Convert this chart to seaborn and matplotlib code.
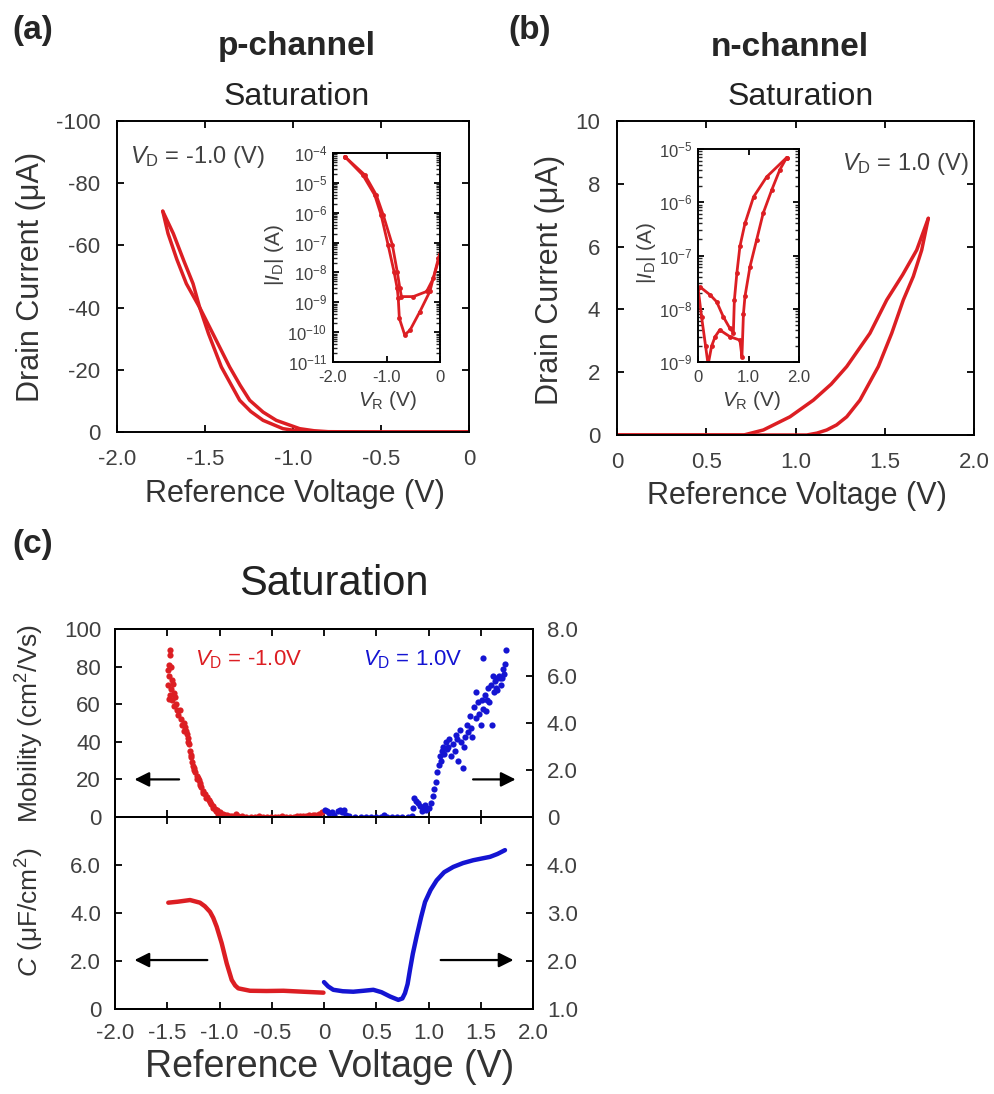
import numpy as np
import seaborn as sns
import matplotlib.pyplot as plt
from matplotlib.ticker import LogLocator, NullFormatter

# ---- (a) p-channel, saturation transfer loop (V, uA) ----
pch_v_left = [0.0, -0.6, -0.9, -0.98, -1.057, -1.17, -1.24, -1.303, -1.407, -1.48, -1.53, -1.606, -1.66, -1.71, -1.74]
pch_i_left = [0.0, 0.0, -0.1, -0.4, -1.07, -3.75, -6.6, -10.2, -20.9, -31.6, -40.0, -47.7, -55.5, -63.8, -71.0]
pch_v_right = [-1.74, -1.68, -1.62, -1.568, -1.53, -1.455, -1.36, -1.30, -1.246, -1.17, -1.095, -0.962, -0.88, -0.8, -0.5, 0.0]
pch_i_right = [-71.0, -63.8, -55.0, -47.7, -40.0, -31.6, -20.9, -15.0, -10.2, -6.4, -3.75, -1.07, -0.4, -0.1, 0.0, 0.0]

# inset (a): |ID| (A) on log scale
pin_v_dip = [-1.78, -1.44, -1.22, -1.10, -0.97, -0.86, -0.80, -0.78, -0.76, -0.66, -0.56, -0.375, -0.19, -0.03, 0.0]
pin_i_dip = [7.6e-5, 1.8e-5, 3.9e-6, 8.3e-7, 8.3e-8, 1.07e-8, 2.95e-9, 1.35e-9, 2.9e-10, 8.1e-11,
             1.17e-10, 4.9e-10, 2.3e-9, 2.95e-8, 4.0e-8]
pin_v_flat = [-1.78, -1.40, -1.19, -1.06, -0.89, -0.80, -0.75, -0.72, -0.5, -0.25, -0.125, 0.0]
pin_i_flat = [7.6e-5, 1.8e-5, 3.9e-6, 8.3e-7, 8.3e-8, 1.07e-8, 2.95e-9, 1.55e-9, 1.55e-9, 2.3e-9, 6.3e-9, 3.8e-8]

# ---- (b) n-channel loop (V, uA) ----
nch_v_up = [0.0, 0.4, 0.71, 0.82, 0.969, 1.10, 1.20, 1.287, 1.417, 1.511, 1.60, 1.679, 1.744]
nch_i_up = [0.0, 0.0, 0.0, 0.16, 0.58, 1.11, 1.62, 2.18, 3.24, 4.30, 5.10, 5.89, 6.90]
nch_v_down = [1.744, 1.707, 1.66, 1.604, 1.539, 1.464, 1.361, 1.287, 1.23, 1.175, 1.12, 1.063, 0.6, 0.0]
nch_i_down = [6.90, 5.89, 5.05, 4.30, 3.24, 2.18, 1.11, 0.58, 0.32, 0.16, 0.06, 0.0, 0.0, 0.0]

# inset (b)
nin_v_a = [0.0, 0.04, 0.24, 0.37, 0.5, 0.63, 0.70, 0.72, 0.77, 0.83, 0.93, 1.10, 1.36, 1.756]
nin_i_a = [2.5e-8, 2.57e-8, 1.82e-8, 1.35e-8, 7.1e-9, 4.3e-9, 3.55e-9, 1.45e-8, 4.7e-8, 1.48e-7,
           4.0e-7, 1.26e-6, 3.0e-6, 6.9e-6]
nin_v_b = [0.0, 0.07, 0.15, 0.2, 0.27, 0.34, 0.43, 0.63, 0.83, 0.87, 0.90, 0.93, 1.03, 1.16, 1.29,
           1.46, 1.62, 1.756]
nin_i_b = [2.5e-8, 7.1e-9, 2.0e-9, 8.9e-10, 2.0e-9, 3.0e-9, 4.0e-9, 3.0e-9, 2.57e-9, 1.26e-9, 8.1e-9,
           1.7e-8, 6.2e-8, 1.95e-7, 6.2e-7, 1.7e-6, 4.07e-6, 6.9e-6]

# ---- (c) mobility (p: left axis, n: right axis) ----
mob_p_v = [-1.475, -1.47, -1.48, -1.49, -1.46, -1.485, -1.455, -1.49, -1.465, -1.445, -1.47, -1.44, -1.48,
           -1.45, -1.43, -1.44, -1.42, -1.41, -1.395, -1.38, -1.37, -1.355, -1.34, -1.33, -1.32, -1.31,
           -1.30, -1.29, -1.28, -1.27, -1.265, -1.25, -1.24, -1.23, -1.22, -1.21, -1.20, -1.19, -1.18,
           -1.16, -1.14, -1.12, -1.10, -1.08, -1.06, -1.04, -1.02, -1.00, -0.97, -0.93, -0.88, -0.84,
           -0.78, -0.70, -0.62, -0.55, -0.47, -0.40, -0.33, -0.26, -0.20, -0.14, -0.09, -0.05, -0.02,
           -1.335, -1.305, -1.275, -1.245, -1.215, -1.185, -1.155, -1.125, -1.095, -1.065, -1.035,
           -1.01, -0.95, -0.90, -0.82, -0.75, -0.66, -0.58, -0.51, -0.44, -0.36, -0.29, -0.23, -0.17, -0.11]
mob_p = [89, 86, 81, 78, 80, 75, 73, 70, 68, 71, 65, 66, 63, 62, 64, 59, 60, 57, 54, 57, 52, 49, 50, 48,
         46, 44, 42, 39, 35, 32, 29, 27, 25, 24, 22, 21, 19.5, 18, 16, 14, 12, 10.5, 9, 7, 6, 4.5, 3.5,
         2.5, 1.8, 1.0, 0.6, 1.5, 0.4, 0.2, 0.3, 0.1, 0.2, 0.3, 0.2, 0.4, 0.6, 0.9, 1.3, 1.8, 2.6,
         46, 40, 33, 26, 20, 17, 13, 10, 8, 5, 3,
         1.5, 0.8, 0.3, 0.5, 0.1, 0.0, 0.2, 0.0, 0.1, 0.0, 0.2, 0.3, 0.5, 0.8]
mob_n_v = [0.01, 0.03, 0.05, 0.08, 0.10, 0.13, 0.15, 0.17, 0.19, 0.21, 0.24, 0.30, 0.40, 0.50, 0.57, 0.60,
           0.70, 0.80, 0.84, 0.85, 0.86, 0.88, 0.90, 0.92, 0.95, 0.98, 1.00, 1.02, 1.04, 1.05, 1.07, 1.08,
           1.10, 1.11, 1.12, 1.14, 1.15, 1.17, 1.18, 1.20, 1.22, 1.23, 1.25, 1.26, 1.28, 1.30, 1.31, 1.33,
           1.35, 1.37, 1.38, 1.40, 1.42, 1.44, 1.45, 1.47, 1.48, 1.50, 1.51, 1.52, 1.54, 1.55, 1.57, 1.58,
           1.60, 1.61, 1.63, 1.64, 1.66, 1.67, 1.69, 1.70, 1.71, 1.72, 1.73, 1.74, 1.525, 1.45, 1.62, 1.66,
           0.35, 0.45, 0.55, 0.65, 0.75, 0.94, 0.97, 1.13, 1.19, 1.27, 1.34, 1.41, 1.56, 1.65, 1.68]
mob_n = [0.3, 0.25, 0.15, 0.2, 0.1, 0.25, 0.3, 0.2, 0.3, 0.1, 0.05, 0.02, 0.0, 0.0, 0.1, 0.02, 0.0, 0.0,
         0.05, 0.4, 0.8, 0.7, 0.6, 0.45, 0.35, 0.3, 0.4, 0.6, 0.9, 1.2, 1.5, 1.9, 2.2, 2.6, 2.4, 3.0, 2.7,
         3.2, 2.9, 3.3, 2.6, 3.1, 2.8, 3.5, 2.4, 3.7, 3.2, 2.1, 3.4, 3.9, 3.6, 4.3, 3.4, 4.7, 4.2, 4.9,
         4.4, 3.9, 5.0, 4.6, 5.2, 4.5, 5.5, 4.9, 5.6, 3.9, 5.3, 5.8, 5.4, 6.0, 5.6, 5.9, 6.3, 6.1, 6.5,
         7.1, 6.75, 5.3, 6.0, 5.9,
         0.0, 0.0, 0.0, 0.0, 0.0, 0.25, 0.5, 2.8, 3.0, 3.3, 3.0, 3.8, 5.0, 5.5, 5.9]

# ---- (c) capacitance (p: left axis, n: right axis) ----
cap_p_v = [-1.49, -1.40, -1.282, -1.187, -1.14, -1.091, -1.06, -1.027, -0.979, -0.931, -0.883, -0.85,
           -0.82, -0.708, -0.55, -0.389, -0.2, -0.005]
cap_p = [4.43, 4.47, 4.54, 4.43, 4.28, 4.05, 3.80, 3.43, 2.74, 1.90, 1.21, 0.98, 0.86, 0.76, 0.75, 0.76,
         0.72, 0.68]
cap_n_v = [0.0, 0.04, 0.089, 0.18, 0.28, 0.38, 0.472, 0.55, 0.632, 0.711, 0.75, 0.775, 0.80, 0.823,
           0.85, 0.887, 0.93, 0.967, 1.02, 1.078, 1.15, 1.237, 1.33, 1.429, 1.589, 1.66, 1.732]
cap_n = [1.56, 1.47, 1.40, 1.37, 1.36, 1.38, 1.40, 1.35, 1.26, 1.19, 1.22, 1.33, 1.52, 1.82, 2.15, 2.52,
         2.92, 3.23, 3.48, 3.68, 3.85, 3.96, 4.04, 4.10, 4.17, 4.23, 4.31]

RED = '#dc1e23'
BLUE = '#1414d2'
GREY = '#404040'
W, H = 994, 1094

sns.set_theme(style='ticks')
plt.rcParams['font.family'] = ['Liberation Sans', 'DejaVu Sans']
plt.rcParams['mathtext.fontset'] = 'custom'
plt.rcParams['mathtext.rm'] = 'Liberation Sans'
plt.rcParams['mathtext.it'] = 'Liberation Sans:italic'
plt.rcParams['mathtext.bf'] = 'Liberation Sans:bold'
plt.rcParams['axes.unicode_minus'] = False

fig = plt.figure(figsize=(W / 100, H / 100), dpi=100)


def box(l, t, r, b):
    return [l / W, 1 - b / H, (r - l) / W, (b - t) / H]


def ftext(x, y, s, **kw):
    fig.text(x / W, 1 - y / H, s, **kw)


def style(ax, size=16, length=5, pad=12, right=True):
    for sp in ax.spines.values():
        sp.set_visible(True)
        sp.set_linewidth(1.4)
        sp.set_color('black')
    ax.tick_params(direction='in', top=True, right=right, length=length, width=1.3,
                   labelsize=size, labelcolor=GREY, pad=pad, color='black')
    ax.set_xlabel('')
    ax.set_ylabel('')


def loop(ax, xs, ys, lw=2.5, marker=None):
    for x, y in zip(xs, ys):
        sns.lineplot(x=x, y=y, sort=False, estimator=None, color=RED, linewidth=lw, ax=ax,
                     marker=marker, markersize=3.5, markeredgewidth=0)


# ---------------- (a) ----------------
ax_a = fig.add_axes(box(117, 121, 469, 432))
loop(ax_a, [pch_v_left, pch_v_right], [pch_i_left, pch_i_right])
ax_a.set_xlim(-2.0, 0.0)
ax_a.set_ylim(0, -100)
style(ax_a)
ax_a.set_xticks([-2.0, -1.5, -1.0, -0.5, 0.0])
ax_a.set_xticklabels(['-2.0', '-1.5', '-1.0', '-0.5', '0'])
ax_a.set_yticks([0, -20, -40, -60, -80, -100])
ax_a.set_yticklabels(['0', '-20', '-40', '-60', '-80', '-100'])
ax_a.text(0.037, 0.865, '$V_{\\mathrm{D}}$ = -1.0 (V)', transform=ax_a.transAxes,
          fontsize=17, color=GREY, ha='left', va='baseline')

ins_a = fig.add_axes(box(333, 153, 440, 362))
loop(ins_a, [pin_v_dip, pin_v_flat], [pin_i_dip, pin_i_flat], lw=2.0, marker='o')
ins_a.set_yscale('log')
ins_a.set_xlim(-2.0, 0.0)
ins_a.set_ylim(1e-11, 1e-4)
style(ins_a, size=12, length=4, pad=4)
ins_a.set_xticks([-2.0, -1.0, 0.0])
ins_a.set_xticklabels(['-2.0', '-1.0', '0'])
ins_a.yaxis.set_major_locator(LogLocator(base=10, numticks=20))
ins_a.yaxis.set_minor_locator(LogLocator(base=10, subs=np.arange(2, 10), numticks=20))
ins_a.yaxis.set_minor_formatter(NullFormatter())
ins_a.tick_params(axis='y', which='minor', direction='in', left=True, right=True, length=3, width=1.0)
ins_a.tick_params(axis='x', pad=6)
ftext(275, 255, '$|I_{\\mathrm{D}}|$ (A)', fontsize=15, color=GREY, rotation=90, ha='center', va='center')
ftext(388, 400, '$V_{\\mathrm{R}}$ (V)', fontsize=15, color=GREY, ha='center', va='center')

# ---------------- (b) ----------------
ax_b = fig.add_axes(box(617, 121, 974, 435))
loop(ax_b, [nch_v_up, nch_v_down], [nch_i_up, nch_i_down])
ax_b.set_xlim(0.0, 2.0)
ax_b.set_ylim(0, 10)
style(ax_b)
ax_b.set_xticks([0.0, 0.5, 1.0, 1.5, 2.0])
ax_b.set_xticklabels(['0', '0.5', '1.0', '1.5', '2.0'])
ax_b.set_yticks([0, 2, 4, 6, 8, 10])
ax_b.set_yticklabels(['0', '2', '4', '6', '8', '10'])
ax_b.text(0.630, 0.844, '$V_{\\mathrm{D}}$ = 1.0 (V)', transform=ax_b.transAxes,
          fontsize=17, color=GREY, ha='left', va='baseline')

ins_b = fig.add_axes(box(698, 149, 799, 362))
loop(ins_b, [nin_v_a, nin_v_b], [nin_i_a, nin_i_b], lw=2.0, marker='o')
ins_b.set_yscale('log')
ins_b.set_xlim(0.0, 2.0)
ins_b.set_ylim(1e-9, 1e-5)
style(ins_b, size=12, length=4, pad=4)
ins_b.set_xticks([0.0, 1.0, 2.0])
ins_b.set_xticklabels(['0', '1.0', '2.0'])
ins_b.yaxis.set_major_locator(LogLocator(base=10, numticks=20))
ins_b.yaxis.set_minor_locator(LogLocator(base=10, subs=np.arange(2, 10), numticks=20))
ins_b.yaxis.set_minor_formatter(NullFormatter())
ins_b.tick_params(axis='y', which='minor', direction='in', left=True, right=True, length=3, width=1.0)
ins_b.tick_params(axis='x', pad=6)
ftext(646, 253, '$|I_{\\mathrm{D}}|$ (A)', fontsize=15, color=GREY, rotation=90, ha='center', va='center')
ftext(752, 400, '$V_{\\mathrm{R}}$ (V)', fontsize=15, color=GREY, ha='center', va='center')

# ---------------- (c) top: mobility ----------------
ax_m = fig.add_axes(box(115, 629, 533, 817))
sns.scatterplot(x=mob_p_v, y=mob_p, color=RED, s=20, linewidth=0, ax=ax_m)
ax_m.set_xlim(-2.0, 2.0)
ax_m.set_ylim(0, 100)
style(ax_m, right=False, pad=10)
ax_m.set_xticks(np.arange(-2.0, 2.01, 0.5))
ax_m.tick_params(axis='x', labelbottom=False)
ax_m.set_yticks([0, 20, 40, 60, 80, 100])
ax_m.set_yticklabels(['0', '20', '40', '60', '80', '100'])
ax_m2 = ax_m.twinx()
sns.scatterplot(x=mob_n_v, y=mob_n, color=BLUE, s=20, linewidth=0, ax=ax_m2)
ax_m2.set_ylim(0, 8)
style(ax_m2, pad=10)
ax_m2.tick_params(axis='y', left=False, right=True)
ax_m2.set_yticks([0, 2, 4, 6, 8])
ax_m2.set_yticklabels(['0', '2.0', '4.0', '6.0', '8.0'])
ax_m.text(0.191, 0.809, '$V_{\\mathrm{D}}$ = -1.0V', transform=ax_m.transAxes,
          fontsize=16, color=RED, ha='left', va='baseline')
ax_m.text(0.593, 0.809, '$V_{\\mathrm{D}}$ = 1.0V', transform=ax_m.transAxes,
          fontsize=16, color=BLUE, ha='left', va='baseline')
arrow = dict(arrowstyle='-|>', color='black', lw=1.6, mutation_scale=22)
ax_m.annotate('', xy=(-1.84, 20), xytext=(-1.36, 20), arrowprops=arrow)
ax_m.annotate('', xy=(1.86, 20), xytext=(1.40, 20), arrowprops=arrow)

# ---------------- (c) bottom: capacitance ----------------
ax_c = fig.add_axes(box(115, 817, 533, 1009))
sns.lineplot(x=cap_p_v, y=cap_p, sort=False, estimator=None, color=RED, linewidth=3.2, ax=ax_c)
ax_c.set_xlim(-2.0, 2.0)
ax_c.set_ylim(0, 8)
style(ax_c, right=False, pad=10)
ax_c.set_xticks(np.arange(-2.0, 2.01, 0.5))
ax_c.set_xticklabels(['-2.0', '-1.5', '-1.0', '-0.5', '0', '0.5', '1.0', '1.5', '2.0'])
ax_c.set_yticks([0, 2, 4, 6])
ax_c.set_yticklabels(['0', '2.0', '4.0', '6.0'])
ax_c2 = ax_c.twinx()
sns.lineplot(x=cap_n_v, y=cap_n, sort=False, estimator=None, color=BLUE, linewidth=3.2, ax=ax_c2)
ax_c2.set_ylim(1, 5)
style(ax_c2, pad=10)
ax_c2.tick_params(axis='y', left=False, right=True)
ax_c2.set_yticks([1, 2, 3, 4])
ax_c2.set_yticklabels(['1.0', '2.0', '3.0', '4.0'])
ax_c.annotate('', xy=(-1.84, 2.04), xytext=(-1.09, 2.04), arrowprops=arrow)
ax_c.annotate('', xy=(1.84, 2.04), xytext=(1.09, 2.04), arrowprops=arrow)

# ---------------- texts ----------------
ftext(12, 31, '(a)', fontsize=24, fontweight='bold', ha='left', va='center')
ftext(508, 31, '(b)', fontsize=24, fontweight='bold', ha='left', va='center')
ftext(12, 545, '(c)', fontsize=24, fontweight='bold', ha='left', va='center')
ftext(297, 47, 'p-channel', fontsize=24, fontweight='bold', ha='center', va='center')
ftext(790, 47, 'n-channel', fontsize=24, fontweight='bold', ha='center', va='center')
ftext(297, 97, 'Saturation', fontsize=23, color='#222222', ha='center', va='center')
ftext(801, 97, 'Saturation', fontsize=23, color='#222222', ha='center', va='center')
ftext(334, 584, 'Saturation', fontsize=30, color='#222222', ha='center', va='center')

ftext(31, 277, 'Drain Current (μA)', fontsize=22, color='#333333', rotation=90, ha='center', va='center')
ftext(550, 280, 'Drain Current (μA)', fontsize=22, color='#333333', rotation=90, ha='center', va='center')
ftext(295, 494, 'Reference Voltage (V)', fontsize=22, color='#333333', ha='center', va='center')
ftext(797, 496, 'Reference Voltage (V)', fontsize=22, color='#333333', ha='center', va='center')
ftext(30, 723, 'Mobility (cm$^2$/Vs)', fontsize=19, color='#333333', rotation=90, ha='center', va='center')
ftext(30, 912, '$C$ (μF/cm$^2$)', fontsize=19, color='#333333', rotation=90, ha='center', va='center')
ftext(330, 1067, 'Reference Voltage (V)', fontsize=27, color='#333333', ha='center', va='center')

fig.savefig('out.png', dpi=100)
